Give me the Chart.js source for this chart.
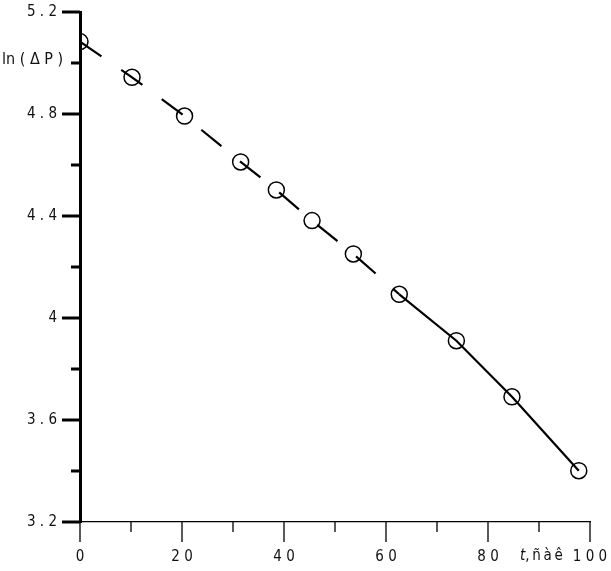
<!DOCTYPE html>
<html>
<head>
<meta charset="utf-8">
<script src="https://cdn.jsdelivr.net/npm/chart.js@4/dist/chart.umd.min.js"></script>
<style>
  html, body { margin: 0; padding: 0; background: #fff; }
  #wrap { width: 611px; height: 571px; }
</style>
</head>
<body>
<div id="wrap"><canvas id="c" width="611" height="571"></canvas></div>
<script>
// time t (sec) and ln(dP)
var tValues = [0, 10.2, 20.5, 31.5, 38.5, 45.5, 53.6, 62.6, 73.8, 84.7, 97.8];
var lnP = [5.084, 4.944, 4.792, 4.612, 4.502, 4.382, 4.251, 4.093, 3.911, 3.691, 3.401];
var dashedUntil = 7; // segments before this point index are dashed
var yTitle = 'ln ( \u0394 P )';
var xTitle = ',\u2009\u00f1\u2009\u00e0\u2009\u00ea';

var tickFont = '"DejaVu Sans Condensed", "Liberation Sans Narrow", "DejaVu Sans", sans-serif';

var pts = tValues.map(function (t, i) { return { x: t, y: lnP[i] }; });

function noPad(s) {
  s.paddingTop = 0; s.paddingBottom = 0; s.paddingLeft = 0; s.paddingRight = 0;
}

// axis decorations: long/short tick marks and the two titles
var decor = {
  id: 'decor',
  afterDraw: function (chart) {
    var ctx = chart.ctx, ys = chart.scales.y, xs = chart.scales.x;
    ctx.save();
    ctx.strokeStyle = '#000';
    ctx.lineWidth = 3;
    ys.ticks.forEach(function (tk, i) {
      var py = ys.getPixelForValue(tk.value);
      var len = (i % 2 === 0) ? 18 : 9;
      ctx.beginPath();
      ctx.moveTo(ys.right - len, py);
      ctx.lineTo(ys.right, py);
      ctx.stroke();
    });
    ctx.lineWidth = 1.3;
    xs.ticks.forEach(function (tk, i) {
      var px = xs.getPixelForValue(tk.value);
      var len = (i % 2 === 0) ? 20 : 10;
      ctx.beginPath();
      ctx.moveTo(px, xs.top);
      ctx.lineTo(px, xs.top + len);
      ctx.stroke();
    });
    ctx.fillStyle = '#111';
    ctx.textBaseline = 'middle';
    ctx.textAlign = 'left';
    ctx.font = 'condensed 16px ' + tickFont;
    ctx.fillText(yTitle, 2, 60);
    ctx.font = 'italic condensed 15px ' + tickFont;
    ctx.fillText('t', 520, 556);
    var w = ctx.measureText('t').width;
    ctx.font = 'condensed 15px ' + tickFont;
    ctx.fillText(xTitle, 520 + w, 556);
    ctx.restore();
  }
};

new Chart(document.getElementById('c'), {
  type: 'scatter',
  data: {
    datasets: [{
      data: pts,
      showLine: true,
      borderColor: '#000',
      borderWidth: 2.2,
      backgroundColor: 'rgba(0,0,0,0)',
      pointRadius: 8,
      pointBorderWidth: 1.5,
      pointBorderColor: '#000',
      pointBackgroundColor: 'rgba(0,0,0,0)',
      segment: {
        borderDash: function (c) { return c.p0DataIndex < dashedUntil ? [26, 24] : undefined; }
      }
    }]
  },
  options: {
    responsive: false,
    animation: false,
    layout: { padding: { top: 12, right: 21, left: 0, bottom: 0 } },
    plugins: { legend: { display: false }, tooltip: { enabled: false } },
    scales: {
      x: {
        type: 'linear',
        min: 0, max: 100,
        afterFit: function (s) { s.height = 49; noPad(s); },
        border: { display: true, color: '#000', width: 1.3 },
        grid: { display: false, drawTicks: false },
        ticks: {
          stepSize: 10,
          padding: 26,
          maxRotation: 0,
          color: '#111',
          font: { family: tickFont, size: 15, style: 'condensed' },
          callback: function (v, i) {
            if (i % 2 !== 0) return '';
            return String(v).split('').join(' ');
          }
        }
      },
      y: {
        type: 'linear',
        min: 3.2, max: 5.2,
        afterFit: function (s) { s.width = 80; noPad(s); },
        border: { display: true, color: '#000', width: 3 },
        grid: { display: false, drawTicks: false },
        ticks: {
          stepSize: 0.2,
          padding: 23,
          color: '#111',
          font: { family: tickFont, size: 15, style: 'condensed' },
          callback: function (v, i) {
            if (i % 2 !== 0) return '';
            var s = String(Math.round(v * 10) / 10);
            return s.split('').join(' ');
          }
        }
      }
    }
  },
  plugins: [decor]
});
</script>
</body>
</html>
